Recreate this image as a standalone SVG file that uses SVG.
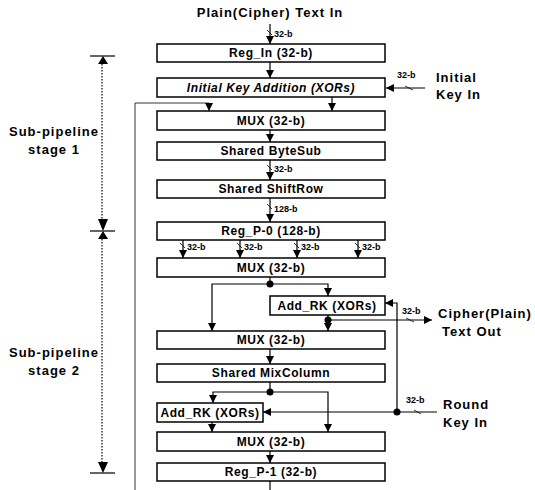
<svg xmlns="http://www.w3.org/2000/svg" width="535" height="490" viewBox="0 0 535 490">
<style>
.box{fill:#fff;stroke:#000;stroke-width:1.5}
.bt{font-family:"Liberation Sans",Arial,sans-serif;font-weight:bold;font-size:12px;letter-spacing:0.6px;text-anchor:middle;fill:#000}
.lbl{font-family:"Liberation Sans",Arial,sans-serif;font-weight:bold;font-size:13px;letter-spacing:1px;fill:#000}
.sm{font-family:"Liberation Sans",Arial,sans-serif;font-weight:bold;font-size:9px;fill:#000}
.ln{fill:none;stroke:#000;stroke-width:1.2}
.thin{fill:none;stroke:#000;stroke-width:0.8}
.dot{fill:none;stroke:#000;stroke-width:1.2;stroke-dasharray:1.5 1.5}
</style>
<defs>
<marker id="ah" viewBox="0 0 10 10" refX="10" refY="5" markerWidth="8" markerHeight="8" markerUnits="userSpaceOnUse" orient="auto"><path d="M0,0 L10,5 L0,10 z" fill="#000"/></marker>
</defs>

<text class="lbl" x="270" y="17" text-anchor="middle">Plain(Cipher) Text In</text>
<text class="lbl" x="436" y="82">Initial</text>
<text class="lbl" x="436" y="99">Key In</text>
<text class="lbl" x="438" y="318">Cipher(Plain)</text>
<text class="lbl" x="472" y="336" text-anchor="middle">Text Out</text>
<text class="lbl" x="443" y="409">Round</text>
<text class="lbl" x="443" y="427">Key In</text>
<text class="lbl" x="54" y="136" text-anchor="middle">Sub-pipeline</text>
<text class="lbl" x="54" y="154" text-anchor="middle">stage 1</text>
<text class="lbl" x="54" y="357" text-anchor="middle">Sub-pipeline</text>
<text class="lbl" x="54" y="375" text-anchor="middle">stage 2</text>

<g id="stage-markers">
<line class="ln" x1="90" y1="56" x2="115" y2="56"/>
<path d="M103,56 L98,64 L108,64 z"/>
<line class="dot" x1="102" y1="64" x2="102" y2="219"/>
<path d="M103,231 L98,219 L108,219 z"/>
<line class="ln" x1="90" y1="231" x2="115" y2="231"/>
<path d="M103,231 L98,239 L108,239 z"/>
<line class="dot" x1="102" y1="239" x2="102" y2="462"/>
<path d="M103,473 L98,462 L108,462 z"/>
<line class="ln" x1="90" y1="473" x2="115" y2="473"/>
</g>

<g id="connectors">
<line class="ln" x1="270" y1="24" x2="270" y2="44" marker-end="url(#ah)"/>
<line class="thin" x1="267" y1="30" x2="272" y2="35"/>
<text class="sm" x="274" y="37">32-b</text>
<line class="ln" x1="270" y1="62" x2="270" y2="78" marker-end="url(#ah)"/>
<line class="ln" x1="425" y1="88" x2="386" y2="88" marker-end="url(#ah)"/>
<line class="thin" x1="405" y1="86" x2="413" y2="90"/>
<text class="sm" x="397" y="78">32-b</text>
<line class="ln" x1="332" y1="97" x2="332" y2="111" marker-end="url(#ah)"/>
<polyline class="thin" points="135,490 135,103 209,103 209,111" marker-end="url(#ah)"/>
<line class="ln" x1="270" y1="130" x2="270" y2="142" marker-end="url(#ah)"/>
<line class="ln" x1="270" y1="160" x2="270" y2="180" marker-end="url(#ah)"/>
<line class="thin" x1="267" y1="165" x2="272" y2="170"/>
<text class="sm" x="274" y="172">32-b</text>
<line class="ln" x1="270" y1="198" x2="270" y2="222" marker-end="url(#ah)"/>
<line class="thin" x1="267" y1="204" x2="272" y2="209"/>
<text class="sm" x="274" y="212">128-b</text>
<line class="ln" x1="183" y1="240" x2="183" y2="258" marker-end="url(#ah)"/>
<line class="thin" x1="180" y1="243" x2="185" y2="248"/>
<text class="sm" x="187" y="250">32-b</text>
<line class="ln" x1="240" y1="240" x2="240" y2="258" marker-end="url(#ah)"/>
<line class="thin" x1="237" y1="243" x2="242" y2="248"/>
<text class="sm" x="244" y="250">32-b</text>
<line class="ln" x1="297" y1="240" x2="297" y2="258" marker-end="url(#ah)"/>
<line class="thin" x1="294" y1="243" x2="299" y2="248"/>
<text class="sm" x="301" y="250">32-b</text>
<line class="ln" x1="358" y1="240" x2="358" y2="258" marker-end="url(#ah)"/>
<line class="thin" x1="355" y1="243" x2="360" y2="248"/>
<text class="sm" x="362" y="250">32-b</text>
<line class="ln" x1="270" y1="277" x2="270" y2="284"/>
<circle cx="270" cy="284" r="3.5"/>
<polyline class="ln" points="270,284 212,284 212,331" marker-end="url(#ah)"/>
<polyline class="ln" points="270,284 328,284 328,296" marker-end="url(#ah)"/>
<line class="ln" x1="328" y1="315" x2="328" y2="331" marker-end="url(#ah)"/>
<circle cx="328" cy="320" r="3.5"/>
<line class="ln" x1="328" y1="320" x2="432" y2="320" marker-end="url(#ah)"/>
<line class="thin" x1="406" y1="318" x2="414" y2="322"/>
<text class="sm" x="402" y="314">32-b</text>
<polyline class="ln" points="397,412 397,303 385,303" marker-end="url(#ah)"/>
<line class="ln" x1="270" y1="349" x2="270" y2="364" marker-end="url(#ah)"/>
<line class="ln" x1="270" y1="382" x2="270" y2="392"/>
<circle cx="270" cy="392" r="3.5"/>
<polyline class="ln" points="270,392 213,392 213,403" marker-end="url(#ah)"/>
<polyline class="ln" points="270,392 328,392 328,432" marker-end="url(#ah)"/>
<line class="ln" x1="437" y1="412" x2="263" y2="412" marker-end="url(#ah)"/>
<line class="thin" x1="414" y1="410" x2="421" y2="414"/>
<circle cx="397" cy="412" r="3.5"/>
<text class="sm" x="406" y="403">32-b</text>
<line class="ln" x1="212" y1="422" x2="212" y2="432" marker-end="url(#ah)"/>
<line class="ln" x1="270" y1="451" x2="270" y2="463" marker-end="url(#ah)"/>
<line class="ln" x1="270" y1="481" x2="270" y2="490"/>
</g>

<g id="reg-in"><rect class="box" x="157" y="44" width="228" height="18"/><text class="bt" x="271" y="57">Reg_In (32-b)</text></g>
<g id="init-key"><rect class="box" x="157" y="78" width="228" height="19"/><text class="bt" x="271" y="92" font-style="italic">Initial Key Addition (XORs)</text></g>
<g id="mux1"><rect class="box" x="157" y="111" width="228" height="19"/><text class="bt" x="271" y="125">MUX (32-b)</text></g>
<g id="bytesub"><rect class="box" x="157" y="142" width="228" height="18"/><text class="bt" x="271" y="155">Shared ByteSub</text></g>
<g id="shiftrow"><rect class="box" x="157" y="180" width="228" height="18"/><text class="bt" x="271" y="193">Shared ShiftRow</text></g>
<g id="reg-p0"><rect class="box" x="157" y="222" width="228" height="18"/><text class="bt" x="271" y="235">Reg_P-0 (128-b)</text></g>
<g id="mux2"><rect class="box" x="157" y="258" width="228" height="19"/><text class="bt" x="271" y="272">MUX (32-b)</text></g>
<g id="addrk1"><rect class="box" x="270" y="296" width="115" height="19"/><text class="bt" x="327" y="310">Add_RK (XORs)</text></g>
<g id="mux3"><rect class="box" x="157" y="331" width="228" height="18"/><text class="bt" x="271" y="344">MUX (32-b)</text></g>
<g id="mixcolumn"><rect class="box" x="157" y="364" width="228" height="18"/><text class="bt" x="271" y="377">Shared MixColumn</text></g>
<g id="addrk2"><rect class="box" x="157" y="403" width="106" height="19"/><text class="bt" x="210" y="417">Add_RK (XORs)</text></g>
<g id="mux4"><rect class="box" x="157" y="432" width="228" height="19"/><text class="bt" x="271" y="446">MUX (32-b)</text></g>
<g id="reg-p1"><rect class="box" x="157" y="463" width="228" height="18"/><text class="bt" x="271" y="476">Reg_P-1 (32-b)</text></g>
</svg>
